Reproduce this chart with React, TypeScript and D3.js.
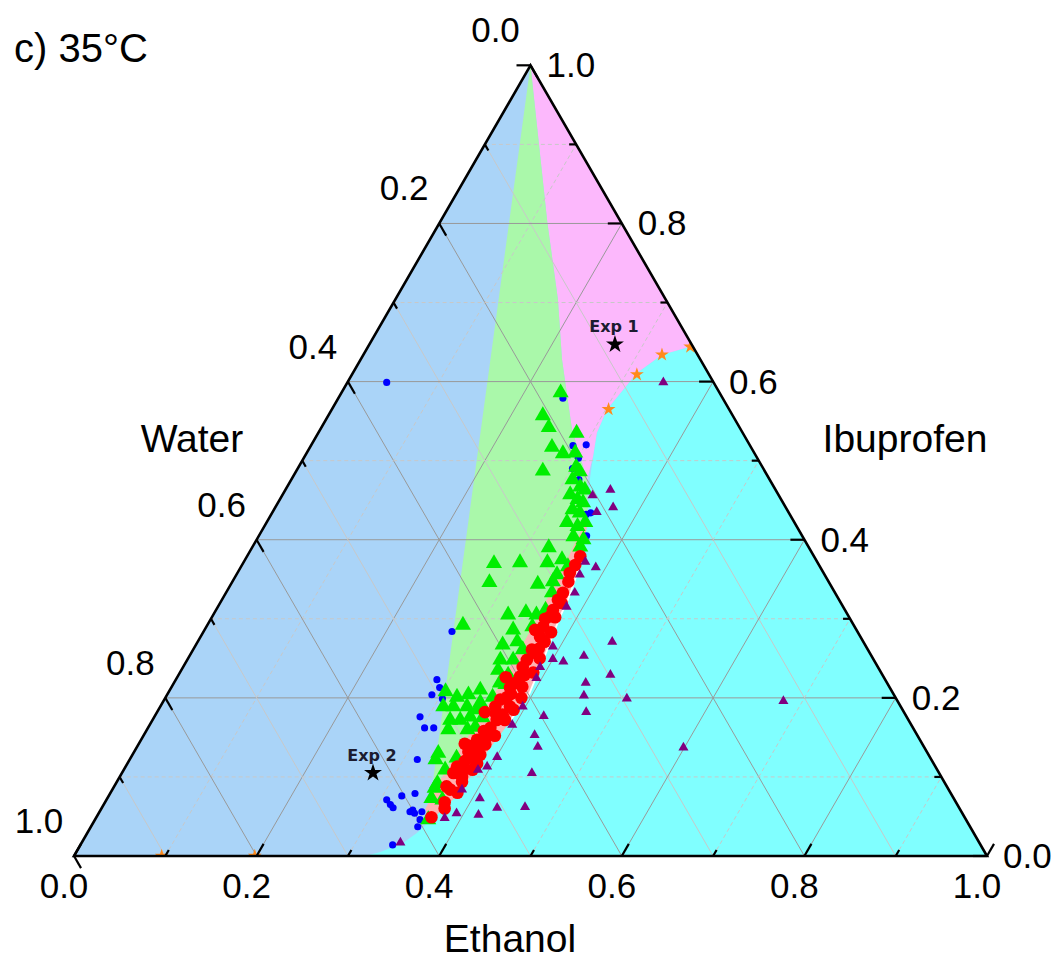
import * as d3 from "d3";

// compositions are [ethanol, ibuprofen] mass fractions, water = 1 - e - i
const greenTriangles = [
  [0.240, 0.586], [0.235, 0.557], [0.249, 0.542], [0.283, 0.535], [0.265, 0.517], [0.281, 0.509],
  [0.294, 0.510], [0.270, 0.487], [0.304, 0.492], [0.311, 0.486], [0.308, 0.476], [0.321, 0.467],
  [0.328, 0.463], [0.315, 0.457], [0.326, 0.451], [0.334, 0.447], [0.327, 0.438], [0.337, 0.434],
  [0.329, 0.422], [0.343, 0.417], [0.349, 0.422], [0.345, 0.404], [0.358, 0.400], [0.359, 0.391],
  [0.325, 0.390], [0.303, 0.371], [0.333, 0.371], [0.347, 0.375], [0.358, 0.366], [0.351, 0.356],
  [0.275, 0.370], [0.282, 0.346], [0.336, 0.344], [0.357, 0.333], [0.351, 0.347], [0.323, 0.305],
  [0.341, 0.308], [0.354, 0.305], [0.361, 0.311], [0.280, 0.292], [0.338, 0.286], [0.357, 0.290],
  [0.336, 0.267], [0.350, 0.271], [0.361, 0.261], [0.343, 0.248], [0.357, 0.248], [0.347, 0.235],
  [0.361, 0.229], [0.364, 0.217], [0.340, 0.210], [0.330, 0.204], [0.319, 0.201], [0.303, 0.208],
  [0.358, 0.201], [0.321, 0.189], [0.336, 0.189], [0.348, 0.194], [0.310, 0.189], [0.349, 0.185],
  [0.326, 0.172], [0.337, 0.172], [0.346, 0.176], [0.360, 0.175], [0.330, 0.160], [0.351, 0.160],
  [0.358, 0.163], [0.334, 0.130], [0.335, 0.122], [0.357, 0.124], [0.352, 0.109], [0.363, 0.109],
  [0.352, 0.086], [0.352, 0.092], [0.355, 0.073], [0.368, 0.071], [0.365, 0.046], [0.362, 0.225],
  [0.357, 0.219],
];

const redPoints = [
  [0.365, 0.379], [0.365, 0.368], [0.364, 0.358], [0.368, 0.347], [0.369, 0.333], [0.374, 0.320],
  [0.369, 0.311], [0.370, 0.303], [0.362, 0.286], [0.369, 0.290], [0.380, 0.271], [0.371, 0.261],
  [0.376, 0.257], [0.372, 0.248], [0.372, 0.239], [0.375, 0.227], [0.374, 0.219], [0.371, 0.213],
  [0.384, 0.214], [0.374, 0.201], [0.368, 0.198], [0.367, 0.189], [0.383, 0.189], [0.380, 0.179],
  [0.379, 0.229], [0.386, 0.172], [0.377, 0.172], [0.375, 0.162], [0.377, 0.151], [0.368, 0.147],
  [0.364, 0.139], [0.366, 0.132], [0.381, 0.128], [0.378, 0.122], [0.363, 0.113], [0.372, 0.109],
  [0.382, 0.109], [0.363, 0.105], [0.380, 0.080], [0.372, 0.068], [0.367, 0.049], [0.372, 0.277],
  [0.368, 0.324], [0.380, 0.141], [0.378, 0.094], [0.370, 0.084], [0.366, 0.300], [0.378, 0.262],
  [0.376, 0.205], [0.372, 0.180], [0.370, 0.158], [0.373, 0.135], [0.368, 0.120], [0.375, 0.100],
  [0.364, 0.088], [0.376, 0.060], [0.390, 0.200], [0.387, 0.232], [0.385, 0.250], [0.381, 0.283],
  [0.389, 0.185], [0.385, 0.152], [0.383, 0.117], [0.376, 0.302], [0.360, 0.226], [0.359, 0.182],
  [0.357, 0.142],
];

const purpleTriangles = [
  [0.346, 0.599], [0.356, 0.463], [0.340, 0.456], [0.355, 0.435], [0.370, 0.441], [0.389, 0.365],
  [0.374, 0.372], [0.376, 0.356], [0.382, 0.333], [0.382, 0.315], [0.454, 0.271], [0.392, 0.265],
  [0.413, 0.246], [0.400, 0.249], [0.432, 0.253], [0.391, 0.239], [0.394, 0.225], [0.473, 0.229],
  [0.451, 0.219], [0.457, 0.203], [0.470, 0.182], [0.397, 0.189], [0.426, 0.177], [0.397, 0.166],
  [0.428, 0.153], [0.439, 0.138], [0.401, 0.125], [0.396, 0.113], [0.388, 0.109], [0.449, 0.105],
  [0.383, 0.084], [0.408, 0.073], [0.433, 0.061], [0.463, 0.062], [0.392, 0.054], [0.417, 0.052],
  [0.382, 0.048], [0.349, 0.017], [0.506, 0.199], [0.679, 0.196], [0.599, 0.137],
];

const blueDots = [
  [0.043, 0.599], [0.246, 0.579], [0.287, 0.519], [0.301, 0.520], [0.301, 0.503], [0.301, 0.490],
  [0.315, 0.476], [0.349, 0.434], [0.345, 0.432], [0.359, 0.405], [0.272, 0.284], [0.286, 0.223],
  [0.294, 0.213], [0.290, 0.204], [0.304, 0.199], [0.291, 0.176], [0.303, 0.162], [0.313, 0.162],
  [0.315, 0.122], [0.334, 0.079], [0.321, 0.076], [0.307, 0.071], [0.314, 0.065], [0.319, 0.061],
  [0.342, 0.058], [0.346, 0.054], [0.353, 0.056], [0.356, 0.046], [0.358, 0.037], [0.342, 0.014],
  [0.340, 0.056],
];

const orangeStars = [
  [0.353, 0.644], [0.327, 0.634], [0.312, 0.609], [0.303, 0.565], [0.096, 0.0], [0.198, 0.0],
];

const expPoints = [
  { name: "Exp 1", c: [0.269, 0.647] },
  { name: "Exp 2", c: [0.275, 0.105] },
];

// region boundaries
const greenRegion = [
  [0, 1], [0.118, 0.801], [0.178, 0.704], [0.2205, 0.628], [0.276, 0.539], [0.324, 0.476],
  [0.35, 0.425], [0.369, 0.3747], [0.379, 0.324], [0.381, 0.3025], [0.389, 0.254], [0.396, 0.206],
  [0.392, 0.168], [0.385, 0.1215], [0.383, 0.08], [0.37, 0.049], [0.366, 0.042],
];
const pinkRegion = [
  [0, 1], [0.355, 0.645], [0.327, 0.634], [0.311, 0.611], [0.3015, 0.5646], [0.305, 0.5354],
  [0.316, 0.505], [0.324, 0.476], [0.276, 0.539], [0.2205, 0.628], [0.178, 0.704], [0.118, 0.801],
];
const cyanRegion = [
  [0.355, 0.645], [1, 0], [0.319, 0], [0.333, 0.0051], [0.352, 0.0165], [0.361, 0.0291],
  [0.37, 0.049], [0.383, 0.08], [0.385, 0.1215], [0.392, 0.168], [0.396, 0.206], [0.389, 0.254],
  [0.381, 0.3025], [0.379, 0.324], [0.369, 0.3747], [0.35, 0.425], [0.327, 0.476], [0.316, 0.505],
  [0.305, 0.5354], [0.3015, 0.5646], [0.311, 0.611], [0.327, 0.634],
];
const salmonRegion = [
  [0.35, 0.41], [0.354, 0.36], [0.357, 0.3], [0.358, 0.25], [0.358, 0.2], [0.356, 0.15],
  [0.353, 0.1], [0.355, 0.06], [0.366, 0.042], [0.37, 0.049], [0.383, 0.08], [0.385, 0.1215],
  [0.392, 0.168], [0.396, 0.206], [0.389, 0.254], [0.381, 0.3025], [0.379, 0.324],
  [0.369, 0.3747], [0.352, 0.42],
];
// thin white seam between the pink band and the cyan region
const seam = [
  [0.369, 0.3747], [0.379, 0.324], [0.381, 0.3025], [0.389, 0.254], [0.396, 0.206], [0.392, 0.168],
];

const tickValues = d3.range(0, 11).map((d) => d / 10);
const gridValues = d3.range(1, 10).map((d) => d / 10);

const svgWidth = 1063;
const svgHeight = 962;
const side = 913;
const ox = 74;
const oy = 856;
const triH = (side * Math.sqrt(3)) / 2;

const px = d3.scaleLinear().domain([0, 1]).range([ox, ox + side]);
const py = d3.scaleLinear().domain([0, 1]).range([oy, oy - triH]);
const proj = ([e, i]) => [px(e + i / 2), py(i)];
const fmt = d3.format(".1f");
const isMajor = (v) => Math.round(v * 10) % 2 === 0;

const poly = (pts) => "M" + pts.map((p) => proj(p).join(",")).join("L") + "Z";
const sym = (type, size) => d3.symbol().type(type).size(size)();

const font = "'Liberation Sans', Arial, sans-serif";

const App = () => {
  const outline = poly([[0, 0], [1, 0], [0, 1]]);

  const gridLines = [];
  gridValues.forEach((v) => {
    const major = isMajor(v);
    // constant ibuprofen
    gridLines.push({ a: [0, v], b: [1 - v, v], major, dash: true });
    // constant ethanol
    gridLines.push({ a: [v, 0], b: [v, 1 - v], major, dash: true });
    // constant water
    gridLines.push({ a: [1 - v, 0], b: [0, 1 - v], major, dash: false });
  });

  const triSym = sym(d3.symbolTriangle, 112);
  const smallTri = sym(d3.symbolTriangle, 44);
  const redSym = sym(d3.symbolCircle, 125);
  const blueSym = sym(d3.symbolCircle, 40);
  const orangeSym = sym(d3.symbolStar, 60);
  const blackSym = sym(d3.symbolStar, 100);
  const seamLine = d3.line().x((p) => proj(p)[0]).y((p) => proj(p)[1]);

  return (
    <svg
      width={svgWidth}
      height={svgHeight}
      style={{ position: "absolute", left: 0, top: 0, background: "#fff" }}
    >
      <defs>
        <clipPath id="tri">
          <path d={outline} />
        </clipPath>
      </defs>

      <path d={outline} fill="#aad4f8" />
      <path d={poly(cyanRegion)} fill="#80ffff" />
      <path d={poly(pinkRegion)} fill="#fcb8fc" />
      <path d={poly(greenRegion)} fill="#aaf8aa" />
      <path d={poly(salmonRegion)} fill="#ffb2b2" />
      <path d={seamLine(seam)} fill="none" stroke="#fff" strokeWidth={1.8} />

      {gridLines.map((l, k) => {
        const [x1, y1] = proj(l.a);
        const [x2, y2] = proj(l.b);
        return (
          <line
            key={k}
            x1={x1}
            y1={y1}
            x2={x2}
            y2={y2}
            stroke={l.major ? "#999" : "#c8c8c8"}
            strokeWidth={1}
            strokeDasharray={!l.major && l.dash ? "4 3" : null}
          />
        );
      })}

      <g clipPath="url(#tri)">
        {blueDots.map((d, k) => {
          const [x, y] = proj(d);
          return <path key={k} d={blueSym} transform={`translate(${x},${y})`} fill="#0000ff" />;
        })}
        {greenTriangles.map((d, k) => {
          const [x, y] = proj(d);
          return <path key={k} d={triSym} transform={`translate(${x},${y})`} fill="#00ee00" />;
        })}
        {redPoints.map((d, k) => {
          const [x, y] = proj(d);
          return <path key={k} d={redSym} transform={`translate(${x},${y})`} fill="#ff0000" />;
        })}
        {purpleTriangles.map((d, k) => {
          const [x, y] = proj(d);
          return <path key={k} d={smallTri} transform={`translate(${x},${y})`} fill="#800080" />;
        })}
        {orangeStars.map((d, k) => {
          const [x, y] = proj(d);
          return <path key={k} d={orangeSym} transform={`translate(${x},${y})`} fill="#ff8a1c" />;
        })}
      </g>

      {expPoints.map((d) => {
        const [x, y] = proj(d.c);
        return (
          <g key={d.name}>
            <path d={blackSym} transform={`translate(${x},${y})`} fill="#000" />
            <text
              x={x - 1}
              y={y - 12}
              textAnchor="middle"
              fontFamily="'DejaVu Sans', Verdana, sans-serif"
              fontWeight="bold"
              fontSize={16}
              fill="#1c1c30"
            >
              {d.name}
            </text>
          </g>
        );
      })}

      <path d={outline} fill="none" stroke="#000" strokeWidth={2.6} strokeLinejoin="miter" />

      {/* ticks */}
      {tickValues.map((v) => {
        const len = isMajor(v) ? 14 : 7;
        const [ex, ey] = proj([v, 0]);
        const [ix, iy] = proj([1 - v, v]);
        const [wx, wy] = proj([0, 1 - v]);
        return (
          <g key={v} stroke="#000" strokeWidth={2.2}>
            <line x1={ex} y1={ey} x2={ex + len * 0.5} y2={ey - len * 0.866} />
            <line x1={ix} y1={iy} x2={ix - len} y2={iy} />
            <line x1={wx} y1={wy} x2={wx + len * 0.5} y2={wy + len * 0.866} />
          </g>
        );
      })}

      {/* tick labels */}
      <g fontFamily={font} fontSize={35} fill="#000">
        {tickValues.filter(isMajor).map((v) => {
          const [ex] = proj([v, 0]);
          const [ix, iy] = proj([1 - v, v]);
          const [wx, wy] = proj([0, 1 - v]);
          return (
            <g key={v}>
              <text x={ex - 10} y={898} textAnchor="middle">{fmt(v)}</text>
              <text x={ix + 16} y={iy + 12} textAnchor="start">{fmt(v)}</text>
              <text x={wx - 35} y={wy - 23} textAnchor="middle">{fmt(v)}</text>
            </g>
          );
        })}
      </g>

      <g fontFamily={font} fill="#000">
        <text x={192} y={452} fontSize={39} textAnchor="middle">Water</text>
        <text x={905} y={452} fontSize={39} textAnchor="middle">Ibuprofen</text>
        <text x={510} y={952} fontSize={39} textAnchor="middle">Ethanol</text>
        <text x={14} y={62} fontSize={40}>c) 35°C</text>
      </g>
    </svg>
  );
};

export default App;
